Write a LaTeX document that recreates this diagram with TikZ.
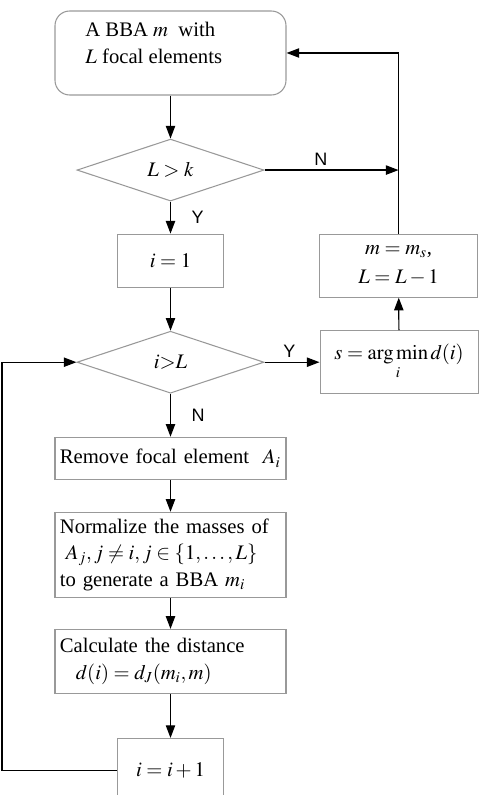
\documentclass[tikz,border=0pt]{standalone}
\usepackage{mathptmx}
\usepackage{fontspec}
\setmainfont{Liberation Serif}
\newfontfamily\yesnofont{Liberation Sans}
\usetikzlibrary{positioning,shapes.geometric,arrows.meta}

\tikzset{
  boxfont/.style={font=\fontsize{15.5}{20}\selectfont},
  procbox/.style={draw=black!40, line width=0.8pt, rectangle, boxfont, inner sep=3.5pt},
  startbox/.style={procbox, rounded corners=11pt, minimum width=173.25pt, minimum height=63pt},
  widebox/.style={procbox, align=left, text width=166pt, minimum width=173.25pt},
  smallbox/.style={procbox, minimum width=79.5pt},
  sidebox/.style={procbox, align=center, minimum width=118.5pt, minimum height=47.25pt},
  decision/.style={draw=black!40, line width=0.8pt, diamond, aspect=3, inner sep=0pt,
    boxfont, minimum width=140.25pt, minimum height=46.5pt},
  flow/.style={draw=black, line width=0.9pt, -{Triangle[length=9.5pt,width=7pt]}},
  yesno/.style={font=\yesnofont\fontsize{13.5}{13.5}\selectfont}
}

\begin{document}
\begin{tikzpicture}
  \useasboundingbox (-127.875pt,-556.5pt) rectangle (233.625pt,39.75pt);

  % Define nodes
  \node[startbox]                                   (start) {};
  \node[boxfont, align=left, anchor=west, inner sep=0pt]
       at ([xshift=23pt,yshift=7.5pt]start.west)      (starttext) {A BBA $m$\ \ with\\$L$\ focal elements};
  \node[decision, below=32.25pt of start]           (dec1) {$L>k$};
  \node[smallbox, minimum height=39.75pt, below=24pt of dec1] (init) {$i=1$};
  \node[decision, below=32.25pt of init]            (dec2) {$i{>}L$};
  \node[widebox, minimum height=31.5pt, below=32.25pt of dec2] (remove)
       {\mbox{Remove focal element\ \ $A_i$}};
  \node[widebox, minimum height=63.75pt, below=24pt of remove] (norm)
       {\mbox{Normalize the masses of}\\\hspace*{4.5pt}$A_j, j\neq i, j\in\{1,\ldots,L\}$\\\mbox{to generate a BBA $m_i$}};
  \node[widebox, minimum height=48pt, below=23.25pt of norm] (calc)
       {\mbox{Calculate the distance}\\\hspace*{12pt}$d(i)=d_J(m_i,m)$};
  \node[smallbox, minimum height=48pt, below=33pt of calc] (inc) {$i=i+1$};

  \node[sidebox, right=71.25pt of init.north east, anchor=north west] (update)
       {$m=m_s$,\\[2pt]$L=L-1$};
  \node[sidebox, right=41.25pt of dec2]             (argm)
       {$s=\mathop{\mathrm{arg\,min}}\limits_{i}d(i)$};

  % Connect the nodes
  \draw[flow] (start) -- (dec1);
  \draw[flow] (dec1) -- node[yesno, right=12pt] (y1) {Y} (init);
  \draw[flow] (dec1.east) -- node[yesno, above, pos=0.42] (n1) {N} (dec1.east -| update.north);
  \draw[flow] (update.north) |- (start.east);
  \draw[flow] (init) -- (dec2);
  \draw[flow] (dec2) -- node[yesno, above, pos=0.45] (y2) {Y} (argm);
  \draw[flow] (argm) -- (update);
  \draw[flow] (dec2) -- node[yesno, right=12pt] (n2) {N} (remove);
  \draw[flow] (remove) -- (norm);
  \draw[flow] (norm) -- (calc);
  \draw[flow] (calc) -- (inc);
  \draw[flow] (inc.west) -- ++(-86.25pt,0) |- (dec2.west);

\end{tikzpicture}
\end{document}
